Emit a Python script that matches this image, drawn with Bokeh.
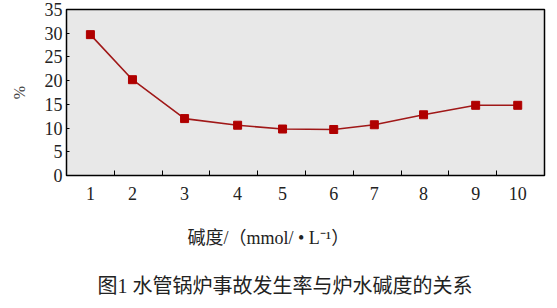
from bokeh.plotting import figure
from bokeh.models import FixedTicker, Title, ColumnDataSource
from bokeh.embed import file_html
from bokeh.resources import INLINE

# data
labels = ["1", "2", "3", "4", "5", "6", "7", "8", "9", "10"]
# horizontal position of each point, in units of the axis' tick interval (as drawn)
x_pos = [0.50, 1.38, 2.47, 3.58, 4.52, 5.59, 6.44, 7.47, 8.56, 9.44]
rate = [29.7, 20.2, 12.0, 10.6, 9.8, 9.7, 10.7, 12.8, 14.8, 14.8]
y_ticks = [0, 5, 10, 15, 20, 25, 30, 35]
x_minor = [0, 1, 2, 3, 4, 5, 6, 7, 8, 9, 10]

serif = "Liberation Serif"
mixed = "'Liberation Serif', 'Noto Sans CJK SC'"

p = figure(width=557, height=308, x_range=(0, 10), y_range=(0, 35),
           output_backend="svg", toolbar_location=None,
           min_border_left=66, min_border_right=13, min_border_top=9, min_border_bottom=133)
p.border_fill_color = "white"
p.background_fill_color = "#e8e8e8"
p.grid.visible = False
p.outline_line_color = "black"
p.outline_line_width = 1.5

src = ColumnDataSource(dict(x=x_pos, y=rate))
p.line("x", "y", source=src, line_color="#a01818", line_width=1.6)
p.scatter("x", "y", source=src, marker="square", size=8, fill_color="#b00000", line_color="#b00000")

xa = p.xaxis[0]
xa.ticker = FixedTicker(ticks=x_pos, minor_ticks=x_minor)
xa.major_label_overrides = {x: l for x, l in zip(x_pos, labels)}
xa.major_tick_in = 0
xa.major_tick_out = 0
xa.minor_tick_in = 5
xa.minor_tick_out = 0
xa.minor_tick_line_color = "black"
xa.axis_line_color = None
xa.major_label_text_font = serif
xa.major_label_text_font_size = "18px"
xa.major_label_text_color = "#222222"
xa.major_label_standoff = 11

ya = p.yaxis[0]
ya.ticker = FixedTicker(ticks=y_ticks)
ya.major_tick_in = 3
ya.major_tick_out = 0
ya.minor_tick_line_color = None
ya.axis_line_color = None
ya.major_label_text_font = serif
ya.major_label_text_font_size = "18px"
ya.major_label_text_color = "#222222"
ya.major_label_standoff = 4
ya.axis_label = "%"
ya.axis_label_text_font = serif
ya.axis_label_text_font_size = "16px"
ya.axis_label_text_font_style = "normal"
ya.axis_label_standoff = 14

xlab = Title(text="碱度/（mmol/  •  L⁻¹）", align="left", offset=121,
             text_font=mixed, text_font_size="18px", text_font_style="normal",
             text_color="#222222", standoff=46)
p.add_layout(xlab, "below")

cap = Title(text="图1  水管锅炉事故发生率与炉水碱度的关系", align="left", offset=31,
            text_font=mixed, text_font_size="20px", text_font_style="normal",
            text_color="#222222", standoff=4)
p.add_layout(cap, "below")

open("out.html", "w").write(file_html(p, INLINE))
